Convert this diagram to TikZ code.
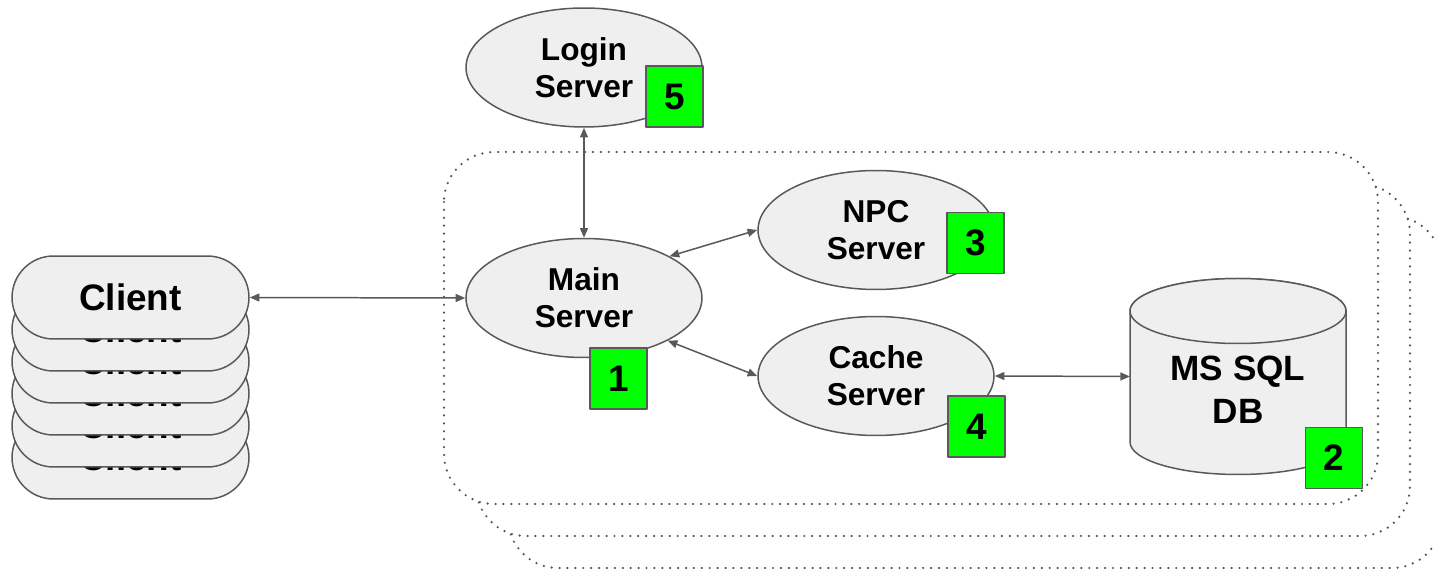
\documentclass[tikz,border=0pt]{standalone}
\usepackage{fontspec}
\setmainfont{Liberation Sans}
\usetikzlibrary{shapes.geometric,shapes.misc,arrows.meta}
\definecolor{shapegray}{HTML}{EFEFEF}
\definecolor{linegray}{HTML}{595959}
\definecolor{dotgray}{HTML}{555555}
\definecolor{taggreen}{HTML}{00FF00}
\tikzset{
  server/.style={ellipse,draw=linegray,fill=shapegray,line width=0.85pt,minimum width=4.72cm,minimum height=2.38cm,inner sep=0pt,align=center,font=\fontsize{18}{21}\selectfont\bfseries},
  dbtext/.style={inner sep=0pt,align=center,font=\fontsize{20}{24.5}\selectfont\bfseries},
  drum/.style={draw=linegray,fill=shapegray,line width=0.85pt},
  tag/.style={rectangle,draw=linegray,fill=taggreen,line width=1.1pt,minimum width=1.14cm,minimum height=1.22cm,inner sep=0pt,font=\fontsize{21}{24}\selectfont\bfseries},
  clientbox/.style={rounded rectangle,draw=linegray,fill=shapegray,line width=0.85pt,minimum width=4.74cm,minimum height=1.66cm,inner sep=0pt,font=\fontsize{21}{25}\selectfont\bfseries},
  cluster/.style={draw=dotgray,fill=white,line width=1.4pt,dash pattern=on 0pt off 4.5pt,line cap=round,rounded corners=1cm},
  link/.style={<->,draw=linegray,line width=0.85pt}
}
\begin{document}
\begin{tikzpicture}[x=0.02cm,y=-0.02cm,>={Triangle[length=5.5pt,width=4.5pt]},line join=round]
\useasboundingbox (0,0) rectangle (1434,570);
% server groups, back to front
\foreach \d in {64,32,0}
  \draw[cluster] (444+\d,152+\d) rectangle (1378+\d,504+\d);
% client stack
\foreach \k in {5,4,3,2,1,0}
  \node[clientbox] (client\k) at (130.5,297.5+32*\k) {Client};
% servers
\node[server] (login) at (584,67.5) {Login\\Server};
\node[server] (main) at (584,298) {Main\\Server};
\node[server] (npc) at (876,230) {NPC\\Server};
\node[server] (cache) at (876,376) {Cache\\Server};
% database drum
\draw[drum] (1130,311) -- (1130,442) arc [start angle=180, end angle=0, x radius=108, y radius=32.5]
  -- (1346,311) arc [start angle=0, end angle=-180, x radius=108, y radius=32.5] -- cycle;
\draw[drum] (1238,311) ellipse (108 and 32.5);
\coordinate (dbin) at (1130,376.5);
\node[dbtext] (db) at (1238,390) {MS SQL\\DB};
% number tags
\node[tag] (tag1) at (618.5,378.5) {1};
\node[tag] (tag2) at (1334,458) {2};
\node[tag] (tag3) at (975.5,243) {3};
\node[tag] (tag4) at (976.5,426.5) {4};
\node[tag] (tag5) at (674.5,96.5) {5};
% links
\draw[link] (client0.east) -- (main.west);
\draw[link] (login.south) -- (main.north);
\draw[link] (main.26) -- (npc.west);
\draw[link] (main.-27) -- (cache.west);
\draw[link] (cache.east) -- (dbin);
\end{tikzpicture}
\end{document}
